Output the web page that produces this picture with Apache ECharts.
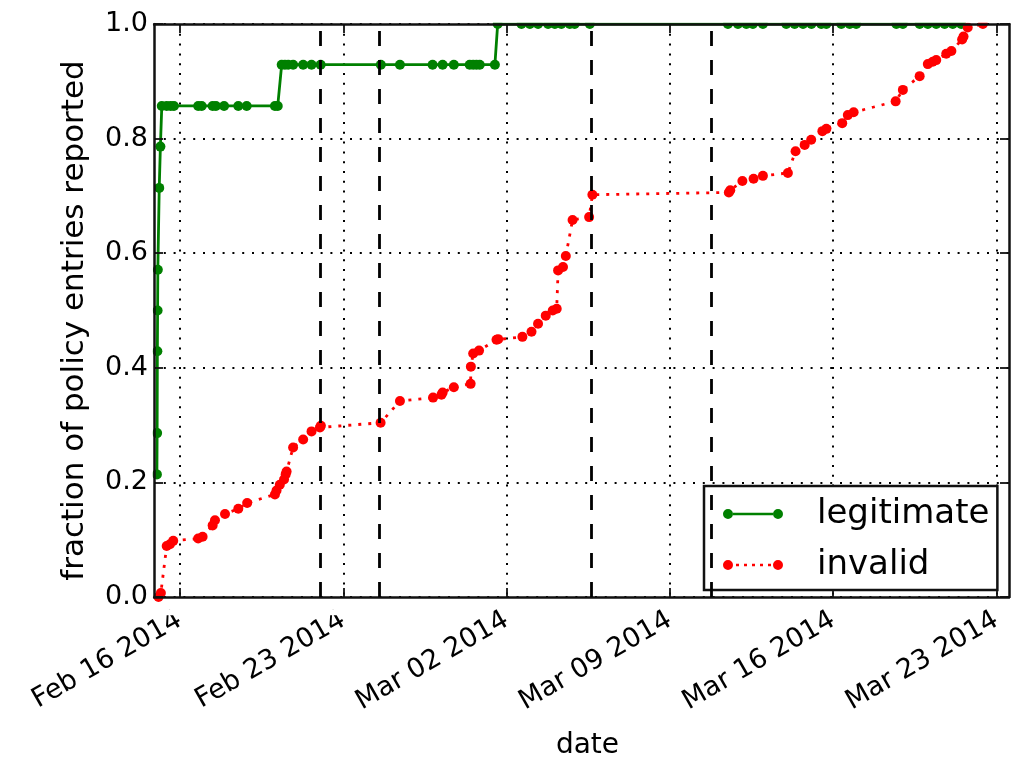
<!DOCTYPE html>
<html><head><meta charset="utf-8">
<script src="https://cdn.jsdelivr.net/npm/echarts@6/dist/echarts.min.js"></script>
<style>html,body{margin:0;padding:0;background:#fff}#c{width:1011px;height:765px}</style>
</head><body><div id="c"></div>
<script>
// x values: days since Feb 16 2014 00:00
const legitDays = [-0.99,-0.98,-0.97,-0.96,-0.95,-0.89,-0.84,-0.78,-0.57,-0.40,-0.26,0.78,0.93,1.40,1.54,1.89,2.50,2.86,4.07,4.19,
  4.36,4.50,4.64,4.85,5.28,5.64,6.03,8.61,9.43,10.83,11.26,11.74,12.42,12.57,12.71,12.85,13.50,
  13.62,14.64,15.00,15.35,15.78,16.07,16.35,16.71,16.92,17.57,23.49,23.92,24.28,24.56,24.99,25.99,26.35,26.71,27.07,27.49,27.71,
  28.35,28.71,28.99,30.71,30.99,31.71,32.06,32.42,32.78,33.13,33.49];
const legitFrac = [0.214,0.286,0.429,0.500,0.571,0.714,0.786,0.857,0.857,0.857,0.857,0.857,0.857,0.857,0.857,0.857,0.857,0.857,0.857,0.857,
  0.929,0.929,0.929,0.929,0.929,0.929,0.929,0.929,0.929,0.929,0.929,0.929,0.929,0.929,0.929,0.929,0.929,
  1,1,1,1,1,1,1,1,1,1,1,1,1,1,1,1,1,1,1,1,1,
  1,1,1,1,1,1,1,1,1,1,1];
const invalidDays = [-0.92,-0.82,-0.57,-0.43,-0.29,0.78,0.97,1.40,1.50,1.93,2.50,2.88,4.07,4.14,4.28,4.46,4.53,4.57,4.85,5.28,5.64,6.00,6.04,
  8.60,9.43,10.85,11.21,11.26,11.74,12.46,12.47,12.57,12.82,13.57,13.64,14.68,15.07,15.35,15.68,15.98,16.15,16.21,16.42,16.54,16.83,17.54,17.68,
  23.53,23.59,24.11,24.59,24.99,26.06,26.39,26.78,27.06,27.54,27.71,28.39,28.63,28.88,30.68,30.99,31.71,32.06,32.27,32.42,32.85,33.07,33.53,33.59,33.77,34.42];
const invalidFrac = [0.000,0.007,0.089,0.092,0.098,0.102,0.105,0.125,0.134,0.145,0.154,0.164,0.179,0.186,0.196,0.205,0.214,0.219,0.261,0.275,0.289,0.296,0.299,
  0.304,0.342,0.348,0.353,0.357,0.366,0.372,0.402,0.425,0.430,0.449,0.450,0.454,0.463,0.477,0.491,0.500,0.503,0.570,0.576,0.595,0.658,0.663,0.702,
  0.706,0.710,0.726,0.730,0.735,0.740,0.778,0.789,0.798,0.813,0.817,0.827,0.841,0.846,0.865,0.885,0.909,0.930,0.934,0.937,0.948,0.953,0.973,0.978,0.994,1.000];
const eventDays = [6.00, 8.55, 17.61, 22.79];
const xTickDays = [0, 7, 14, 21, 28, 35];
const xTickLabels = ['Feb 16 2014','Feb 23 2014','Mar 02 2014','Mar 09 2014','Mar 16 2014','Mar 23 2014'];
const yTicks = [0, 0.2, 0.4, 0.6, 0.8, 1.0];
const xMin = -1.114, xMax = 35.54;

const FONT = 'DejaVu Sans';
const chart = echarts.init(document.getElementById('c'), null, {renderer: 'canvas'});
const pair = (xs, ys) => xs.map((x, i) => [x, ys[i]]);
const dotted = [2, 7.8];
const AX = '#111';
const baseX = {type: 'value', min: xMin, max: xMax, gridIndex: 0};
const tickCommon = {show: true, inside: true, length: 9, lineStyle: {color: AX, width: 1.8}, customValues: xTickDays};

const legitIcon = 'path://M0,5a5,5 0 1,0 10,0a5,5 0 1,0 -10,0Z M50,5a5,5 0 1,0 10,0a5,5 0 1,0 -10,0Z M10,3.7L50,3.7L50,6.3L10,6.3Z';
const invalidIcon = 'path://M0,5a5,5 0 1,0 10,0a5,5 0 1,0 -10,0Z M50,5a5,5 0 1,0 10,0a5,5 0 1,0 -10,0Z ' +
  'M13,3.7h3v2.6h-3Z M21,3.7h3v2.6h-3Z M29,3.7h3v2.6h-3Z M37,3.7h3v2.6h-3Z M45,3.7h3v2.6h-3Z';

const option = {
  animation: false,
  backgroundColor: '#fff',
  grid: {left: 154, right: 2, top: 24, bottom: 157, containLabel: false},
  xAxis: [
    Object.assign({}, baseX, {
      position: 'bottom', z: 3,
      axisLine: {show: true, onZero: false, lineStyle: {color: AX, width: 2.5}},
      axisTick: tickCommon,
      axisLabel: {show: true, customValues: xTickDays, rotate: 30, margin: 21, fontSize: 27, fontFamily: FONT, color: '#000',
        formatter: v => { const i = xTickDays.indexOf(v); return i >= 0 ? xTickLabels[i] : ''; }},
      splitLine: {show: false},
      name: 'date', nameLocation: 'middle', nameGap: 135,
      nameTextStyle: {fontSize: 28, fontFamily: FONT, color: '#000', padding: [0, 0, 0, 12]}
    }),
    Object.assign({}, baseX, {
      position: 'top', z: 3,
      axisLine: {show: true, onZero: false, lineStyle: {color: AX, width: 2.5}},
      axisTick: tickCommon,
      axisLabel: {show: false},
      splitLine: {show: false}
    }),
    Object.assign({}, baseX, {
      position: 'bottom', z: 0,
      axisLine: {show: false}, axisTick: {show: false, customValues: xTickDays},
      axisLabel: {show: false},
      splitLine: {show: true, lineStyle: {color: '#000', width: 2, type: dotted}}
    })
  ],
  yAxis: [
    {type: 'value', min: 0, max: 1, position: 'left', z: 3,
      axisLine: {show: true, onZero: false, lineStyle: {color: AX, width: 2.5}},
      axisTick: {show: true, inside: true, length: 9, lineStyle: {color: AX, width: 1.8}, customValues: yTicks},
      axisLabel: {show: true, customValues: yTicks, margin: 6, fontSize: 27, fontFamily: FONT, color: '#000', formatter: v => v.toFixed(1)},
      splitLine: {show: false},
      name: 'fraction of policy entries reported', nameLocation: 'middle', nameRotate: 90, nameGap: 64,
      nameTextStyle: {fontSize: 31, fontFamily: FONT, color: '#000', padding: [0, 20, 0, 0]}
    },
    {type: 'value', min: 0, max: 1, position: 'right', z: 0,
      axisLine: {show: true, onZero: false, lineStyle: {color: AX, width: 2.5}},
      axisTick: {show: true, inside: true, length: 9, lineStyle: {color: AX, width: 1.8}, customValues: yTicks},
      axisLabel: {show: false},
      splitLine: {show: true, lineStyle: {color: '#000', width: 2, type: dotted}}
    }
  ],
  legend: {
    orient: 'vertical', left: 704, top: 486,
    data: [{name: 'legitimate', icon: legitIcon}, {name: 'invalid', icon: invalidIcon}],
    itemWidth: 60, itemHeight: 10, itemGap: 11,
    padding: [8, 8, 5, 19],
    backgroundColor: '#fff', borderColor: AX, borderWidth: 2.5, borderRadius: 0,
    itemStyle: {borderWidth: 0},
    textStyle: {fontSize: 34, fontFamily: FONT, color: '#000', lineHeight: 40, padding: [0, 0, 0, 29]},
    selectedMode: false
  },
  graphic: [
    {type: 'rect', z: 100, silent: true, shape: {x: 150, y: 0, width: 861, height: 22.8}, style: {fill: '#fff'}},
    {type: 'rect', z: 100, silent: true, shape: {x: 148.5, y: 20, width: 4.3, height: 592}, style: {fill: '#fff'}},
    {type: 'rect', z: 100, silent: true, shape: {x: 150, y: 609.3, width: 300, height: 6}, style: {fill: '#fff'}}
  ],
  series: [
    {name: 'legitimate', type: 'line', xAxisIndex: 0, yAxisIndex: 0, data: pair(legitDays, legitFrac),
      symbol: 'circle', symbolSize: 10, showAllSymbol: true, clip: false,
      itemStyle: {color: '#008000', borderWidth: 0},
      lineStyle: {color: '#008000', width: 2.8}, z: 2},
    {name: 'invalid', type: 'line', xAxisIndex: 0, yAxisIndex: 0, data: pair(invalidDays, invalidFrac),
      symbol: 'circle', symbolSize: 10, showAllSymbol: true, clip: false,
      itemStyle: {color: '#ff0000', borderWidth: 0},
      lineStyle: {color: '#ff0000', width: 2.8, type: [3, 7]}, z: 2,
      markLine: {silent: true, symbol: ['none', 'none'], label: {show: false}, animation: false,
        lineStyle: {color: '#000', width: 2.8, type: [15, 14]},
        data: eventDays.map(d => ({xAxis: d}))}
    }
  ]
};
chart.setOption(option);
</script></body></html>
